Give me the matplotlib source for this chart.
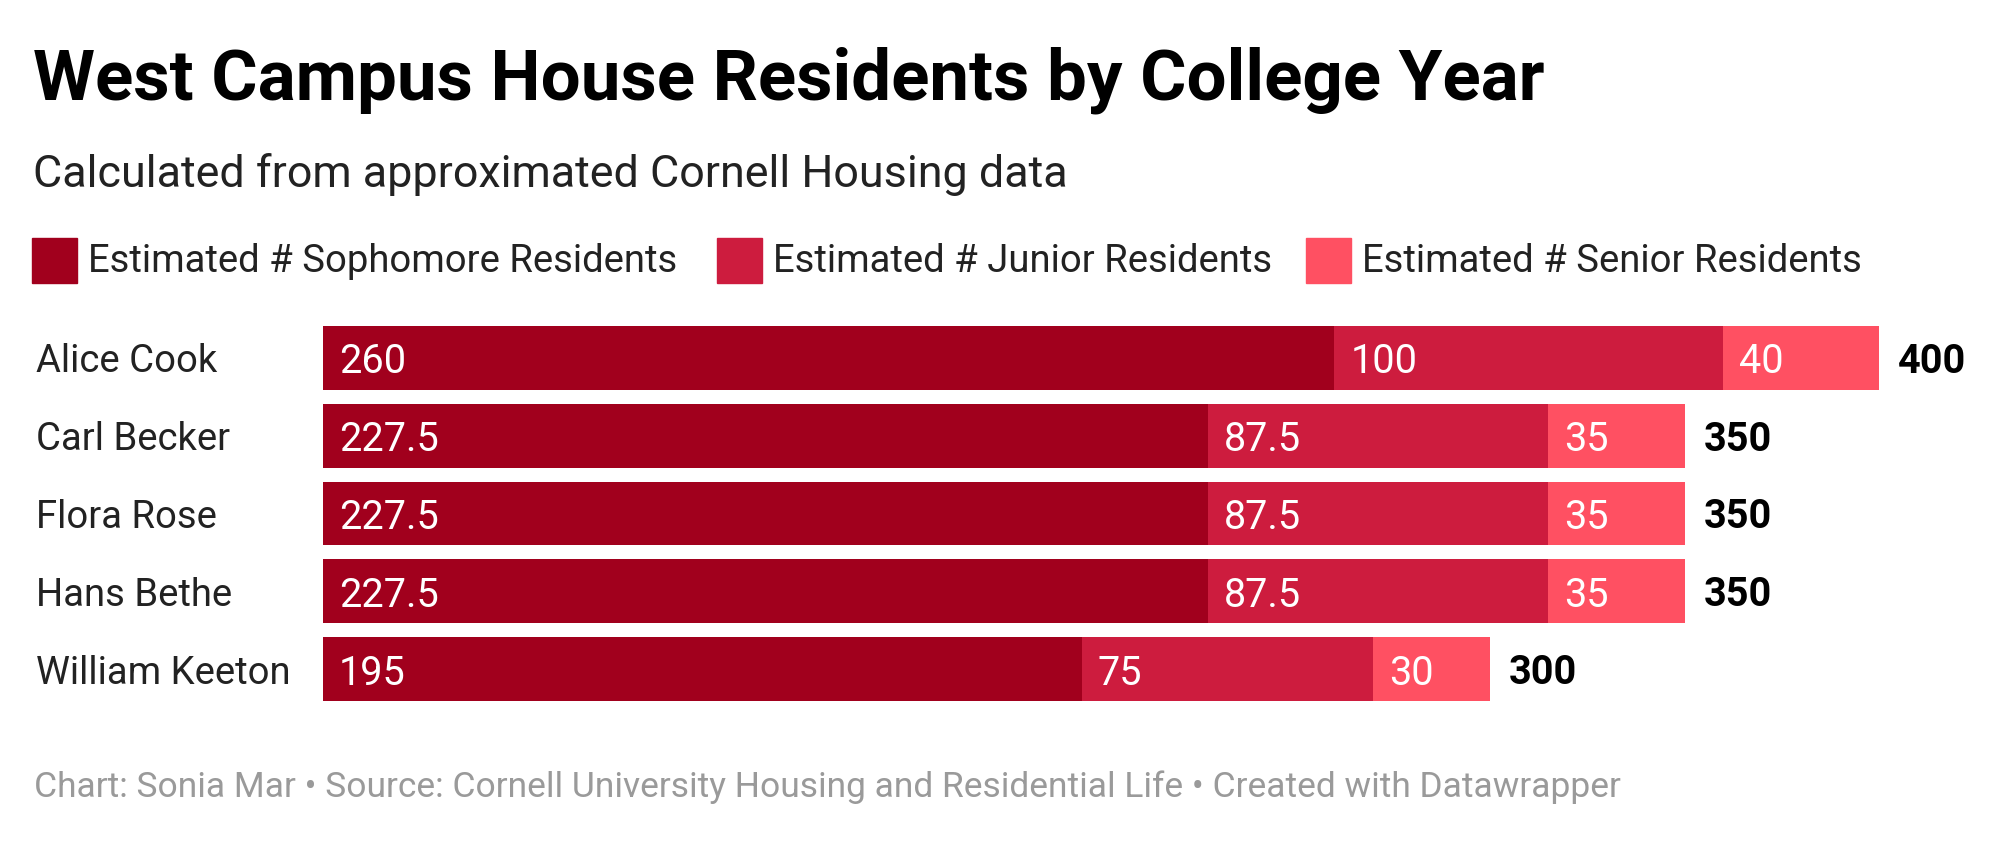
import matplotlib
matplotlib.use("Agg")
import matplotlib.pyplot as plt
import numpy as np

houses = ["Alice Cook", "Carl Becker", "Flora Rose", "Hans Bethe", "William Keeton"]
sophomore = [260, 227.5, 227.5, 227.5, 195]
junior = [100, 87.5, 87.5, 87.5, 75]
senior = [40, 35, 35, 35, 30]
series_names = ["Estimated # Sophomore Residents", "Estimated # Junior Residents",
                "Estimated # Senior Residents"]
colors = ["#a1001d", "#cd1c3e", "#ff5062"]

title = "West Campus House Residents by College Year"
subtitle = "Calculated from approximated Cornell Housing data"
footer = ("Chart: Sonia Mar \u2022 Source: Cornell University Housing and Residential Life "
          "\u2022 Created with Datawrapper")

plt.rcParams['font.family'] = ['Roboto', 'DejaVu Sans']

W, H = 2000, 843
fig = plt.figure(figsize=(W / 100, H / 100), dpi=100)
fig.patch.set_facecolor("white")

def fx(px):
    return px / W

def fy(py):
    return 1 - py / H

# axes placement: x 323..1879 for 0..400; y 319..708
ax = fig.add_axes([fx(323), fy(708), fx(1879) - fx(323), fy(319) - fy(708)])
ax.set_xlim(0, 400)
ax.set_ylim(len(houses) - 0.5, -0.5)
ax.axis("off")

y = np.arange(len(houses))
data = [sophomore, junior, senior]
left = np.zeros(len(houses))
bh = 0.82
for vals, col in zip(data, colors):
    vals = np.array(vals, dtype=float)
    ax.barh(y, vals, left=left, height=bh, color=col, edgecolor="none")
    for yi, l, v in zip(y, left, vals):
        ax.annotate(f"{v:g}", xy=(l, yi), xytext=(16, 0), textcoords="offset pixels",
                    va="center_baseline", ha="left", color="white", fontsize=28.5)
    left = left + vals

for yi, tot in zip(y, left):
    ax.annotate(f"{tot:g}", xy=(tot, yi), xytext=(19, 0), textcoords="offset pixels",
                va="center_baseline", ha="left", color="black", fontsize=28.5,
                fontweight="bold")

for yi, name in zip(y, houses):
    ax.annotate(name, xy=(0, yi), xytext=(-287, 0), textcoords="offset pixels",
                va="center_baseline", ha="left", color="#222222", fontsize=27.5)

# title / subtitle
fig.text(fx(33), fy(99), title, fontsize=51, fontweight="bold", color="black",
         ha="left", va="baseline")
fig.text(fx(33), fy(187), subtitle, fontsize=32.3, color="#222222",
         ha="left", va="baseline")

# legend
leg_x = [32, 717, 1306]
for lx, name, col in zip(leg_x, series_names, colors):
    fig.patches.append(plt.Rectangle((fx(lx), fy(283)), fx(45), fy(238) - fy(283),
                                     transform=fig.transFigure, color=col))
    fig.text(fx(lx + 56), fy(258), name, fontsize=27.5, color="#222222",
             ha="left", va="center_baseline")

fig.text(fx(34), fy(797), footer, fontsize=25.5, color="#9a9a9a",
         ha="left", va="baseline")

fig.savefig("out.png", dpi=100, facecolor="white")
